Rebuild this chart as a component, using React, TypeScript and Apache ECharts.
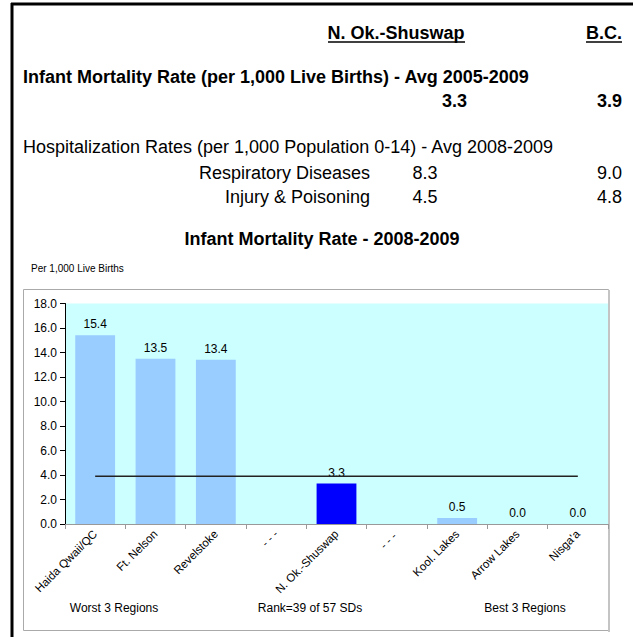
import React, { useEffect, useRef } from "react";
import * as echarts from "echarts";

const categories = ["Haida Qwaii/QC", "Ft. Nelson", "Revelstoke", "- - -", "N. Ok.-Shuswap", "- - - ", "Kool. Lakes", "Arrow Lakes", "Nisga'a"];
const rates = [15.4, 13.5, 13.4, null, 3.3, null, 0.5, 0.0, 0.0];
const highlightIndex = 4;
const bcRate = 3.9;
const bcLine = categories.map(() => bcRate);
const bcLabelIndex = 5;
const yTicks = { min: 0, max: 18, interval: 2 };

const headerArea = "N. Ok.-Shuswap";
const headerBC = "B.C.";
const infantTitle = "Infant Mortality Rate (per 1,000 Live Births) - Avg 2005-2009";
const infantArea = "3.3";
const infantBC = "3.9";
const hospTitle = "Hospitalization Rates (per 1,000 Population 0-14) - Avg 2008-2009";
const hospRows = [
  { name: "Respiratory Diseases", area: "8.3", bc: "9.0" },
  { name: "Injury & Poisoning", area: "4.5", bc: "4.8" },
];
const chartTitle = "Infant Mortality Rate - 2008-2009";
const unitLabel = "Per 1,000 Live Births";
const footerLabels = ["Worst 3 Regions", "Rank=39 of 57 SDs", "Best 3 Regions"];

const FONT = "Arial, 'Liberation Sans', sans-serif";

export default function App() {
  const ref = useRef<HTMLDivElement>(null);
  useEffect(() => {
    if (!ref.current) return;
    const chart = echarts.init(ref.current, null, { renderer: "svg" });
    const txt = (x: number, y: number, text: string, size: number, bold: boolean, align: string = "left") => ({
      type: "text",
      x,
      y,
      style: { text, fill: "#000", font: `${bold ? "bold " : ""}${size}px ${FONT}`, align, verticalAlign: "middle" },
    });
    const graphic: any[] = [
      { type: "line", shape: { x1: 12, y1: 3, x2: 12, y2: 637 }, style: { stroke: "#000", lineWidth: 3 } },
      { type: "line", shape: { x1: 11, y1: 4, x2: 633, y2: 4 }, style: { stroke: "#000", lineWidth: 3 } },
      txt(396, 33, headerArea, 18, true, "center"),
      txt(622, 33, headerBC, 18, true, "right"),
      txt(23, 77, infantTitle, 18, true),
      txt(467, 101, infantArea, 18, true, "right"),
      txt(622, 101, infantBC, 18, true, "right"),
      txt(23, 147, hospTitle, 18, false),
      txt(370, 173, hospRows[0].name, 18, false, "right"),
      txt(425, 173, hospRows[0].area, 18, false, "center"),
      txt(622, 173, hospRows[0].bc, 18, false, "right"),
      txt(370, 197, hospRows[1].name, 18, false, "right"),
      txt(425, 197, hospRows[1].area, 18, false, "center"),
      txt(622, 197, hospRows[1].bc, 18, false, "right"),
      txt(322, 239, chartTitle, 18, true, "center"),
      txt(31, 268, unitLabel, 10, false),
      {
        type: "rect",
        shape: { x: 23.5, y: 289.5, width: 585, height: 341 },
        style: { fill: "none", stroke: "#aaa", lineWidth: 1 },
        z: 0,
      },
      { type: "line", shape: { x1: 609, y1: 290, x2: 609, y2: 632 }, style: { stroke: "#c4c4c4", lineWidth: 2 } },
      txt(114, 608, footerLabels[0], 12, false, "center"),
      txt(310, 608, footerLabels[1], 12, false, "center"),
      txt(525, 608, footerLabels[2], 12, false, "center"),
    ];
    graphic.push({ type: "line", shape: { x1: 328, y1: 42, x2: 465, y2: 42 }, style: { stroke: "#000", lineWidth: 1.5 } });
    graphic.push({ type: "line", shape: { x1: 586, y1: 42, x2: 622, y2: 42 }, style: { stroke: "#000", lineWidth: 1.5 } });

    chart.setOption({
      animation: false,
      textStyle: { fontFamily: FONT },
      graphic,
      grid: {
        left: 65,
        top: 303.5,
        right: 25,
        bottom: 113,
        show: true,
        backgroundColor: "#CCFFFF",
        borderWidth: 0,
        containLabel: false,
      },
      xAxis: {
        type: "category",
        data: categories,
        boundaryGap: true,
        axisLine: { lineStyle: { color: "#999", width: 1 } },
        axisTick: { show: true, length: 5, lineStyle: { color: "#999" } },
        axisLabel: {
          rotate: 45,
          interval: 0,
          fontSize: 11.5,
          color: "#000",
          fontFamily: FONT,
          margin: 8,
        },
      },
      yAxis: {
        type: "value",
        min: yTicks.min,
        max: yTicks.max,
        interval: yTicks.interval,
        axisLine: { show: true, lineStyle: { color: "#000", width: 1 } },
        axisTick: { show: true, length: 5, lineStyle: { color: "#000" } },
        splitLine: { show: false },
        axisLabel: {
          fontSize: 12,
          color: "#000",
          fontFamily: FONT,
          margin: 8,
          formatter: (v: number) => v.toFixed(1),
        },
      },
      series: [
        {
          type: "bar",
          barWidth: "66%",
          z: 2,
          data: rates.map((v, i) => ({
            value: v,
            itemStyle: { color: i === highlightIndex ? "#0000FF" : "#99CCFF" },
          })),
          label: {
            show: true,
            position: "top",
            distance: 5,
            fontSize: 12,
            color: "#000",
            fontFamily: FONT,
            formatter: (p: any) => (p.value == null ? "" : Number(p.value).toFixed(1)),
          },
        },
        {
          type: "line",
          z: 3,
          data: bcLine.map((v, i) =>
            i === bcLabelIndex
              ? {
                  value: v,
                  label: {
                    show: true,
                    position: "top",
                    distance: 8,
                    formatter: `BC ${bcRate.toFixed(1)}`,
                    fontSize: 13,
                    color: "#000",
                    fontFamily: FONT,
                  },
                }
              : v
          ),
          symbol: "none",
          showSymbol: false,
          lineStyle: { color: "#222", width: 1.5 },
          label: { show: false },
        },
      ],
    });
    return () => chart.dispose();
  }, []);
  return <div ref={ref} style={{ position: "fixed", left: 0, top: 0, width: 633, height: 637, background: "#fff" }} />;
}
